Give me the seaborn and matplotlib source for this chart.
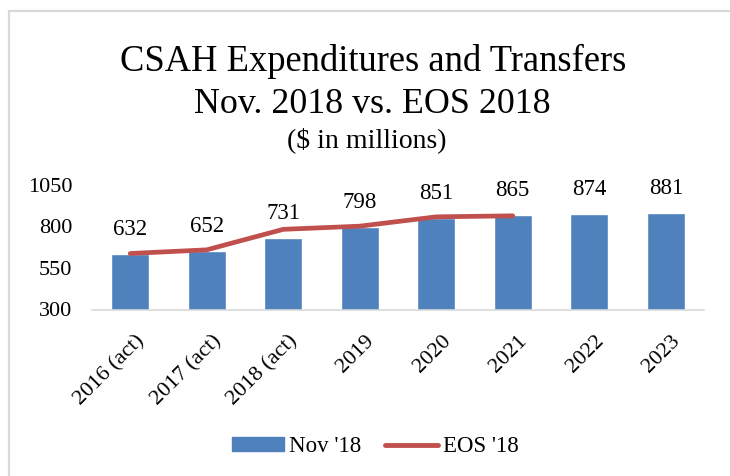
import matplotlib
matplotlib.use("Agg")
import matplotlib.pyplot as plt
import matplotlib.transforms as mtransforms
import seaborn as sns
import pandas as pd
from matplotlib.patches import Rectangle
from matplotlib.lines import Line2D

categories = ["2016 (act)", "2017 (act)", "2018 (act)", "2019", "2020", "2021", "2022", "2023"]
nov18 = [632, 652, 731, 798, 851, 865, 874, 881]
eos18 = [636, 658, 781, 800, 856, 862]
yticks = [300, 550, 800, 1050]

sns.set_theme(style="white")
plt.rcParams['font.family'] = ['Liberation Serif', 'DejaVu Serif']
plt.rcParams['text.color'] = 'black'
plt.rcParams['xtick.color'] = 'black'
plt.rcParams['ytick.color'] = 'black'

W, H = 730, 476
fig = plt.figure(figsize=(W / 100, H / 100), dpi=100)

# axes in pixel coordinates
x0, x1 = 92, 704
ytop, ybot = 184.5, 309.5
ax = fig.add_axes([x0 / W, 1 - ybot / H, (x1 - x0) / W, (ybot - ytop) / H])

df = pd.DataFrame({"cat": categories, "val": nov18})
sns.barplot(data=df, x="cat", y="val", color="#4F81BD", width=0.5, saturation=1, ax=ax, zorder=2)
ax.plot(list(range(len(eos18))), eos18, color="#C0504D", lw=3.4, solid_capstyle="round", zorder=3)

for i, v in enumerate(nov18):
    ax.annotate(str(v), (i, v), xytext=(0, 19), textcoords="offset pixels",
                ha="center", va="baseline", fontsize=16.5, color="black")

ax.set_ylim(300, 1050)
ax.set_xlim(-0.5, len(categories) - 0.5)
ax.set_yticks(yticks)
ax.set_yticklabels([str(t) for t in yticks], fontsize=16)
ax.set_xticks(range(len(categories)))
ax.set_xticklabels(categories, rotation=45, ha="right", rotation_mode="anchor", fontsize=16)
ax.tick_params(axis="both", length=0)
ax.tick_params(axis="y", pad=14)
ax.tick_params(axis="x", pad=16)
shift = mtransforms.ScaledTranslation(5 / 100, 0, fig.dpi_scale_trans)
for lab in ax.get_xticklabels():
    lab.set_transform(lab.get_transform() + shift)
ax.set_xlabel("")
ax.set_ylabel("")
for s in ["top", "right", "left"]:
    ax.spines[s].set_visible(False)
ax.spines["bottom"].set_color("#D9D9D9")
ax.spines["bottom"].set_linewidth(1.2)
ax.grid(False)
ax.set_facecolor("none")

# titles
fig.text(373 / W, 1 - 71 / H, "CSAH Expenditures and Transfers", ha="center", va="baseline", fontsize=26.3)
fig.text(372 / W, 1 - 113 / H, "Nov. 2018 vs. EOS 2018", ha="center", va="baseline", fontsize=25.8)
fig.text(367 / W, 1 - 147 / H, "($ in millions)", ha="center", va="baseline", fontsize=20)

# legend
handles = [Rectangle((0, 0), 1, 1, color="#4F81BD"),
           Line2D([0], [0], color="#C0504D", lw=3.5, solid_capstyle="round")]
fig.legend(handles, ["Nov '18", "EOS '18"], loc="center", bbox_to_anchor=(375 / W, 1 - 447 / H),
           ncol=2, frameon=False, fontsize=16.5, handlelength=2.3, handleheight=0.55,
           handletextpad=0.2, columnspacing=1.05)

# chart border
fig.patches.append(Rectangle((8.5 / W, -0.1), 1.2, 1 - 10.5 / H + 0.1, transform=fig.transFigure,
                             fill=False, edgecolor="#D9D9D9", lw=1.6))

fig.savefig("out.png", dpi=100, facecolor="white")
